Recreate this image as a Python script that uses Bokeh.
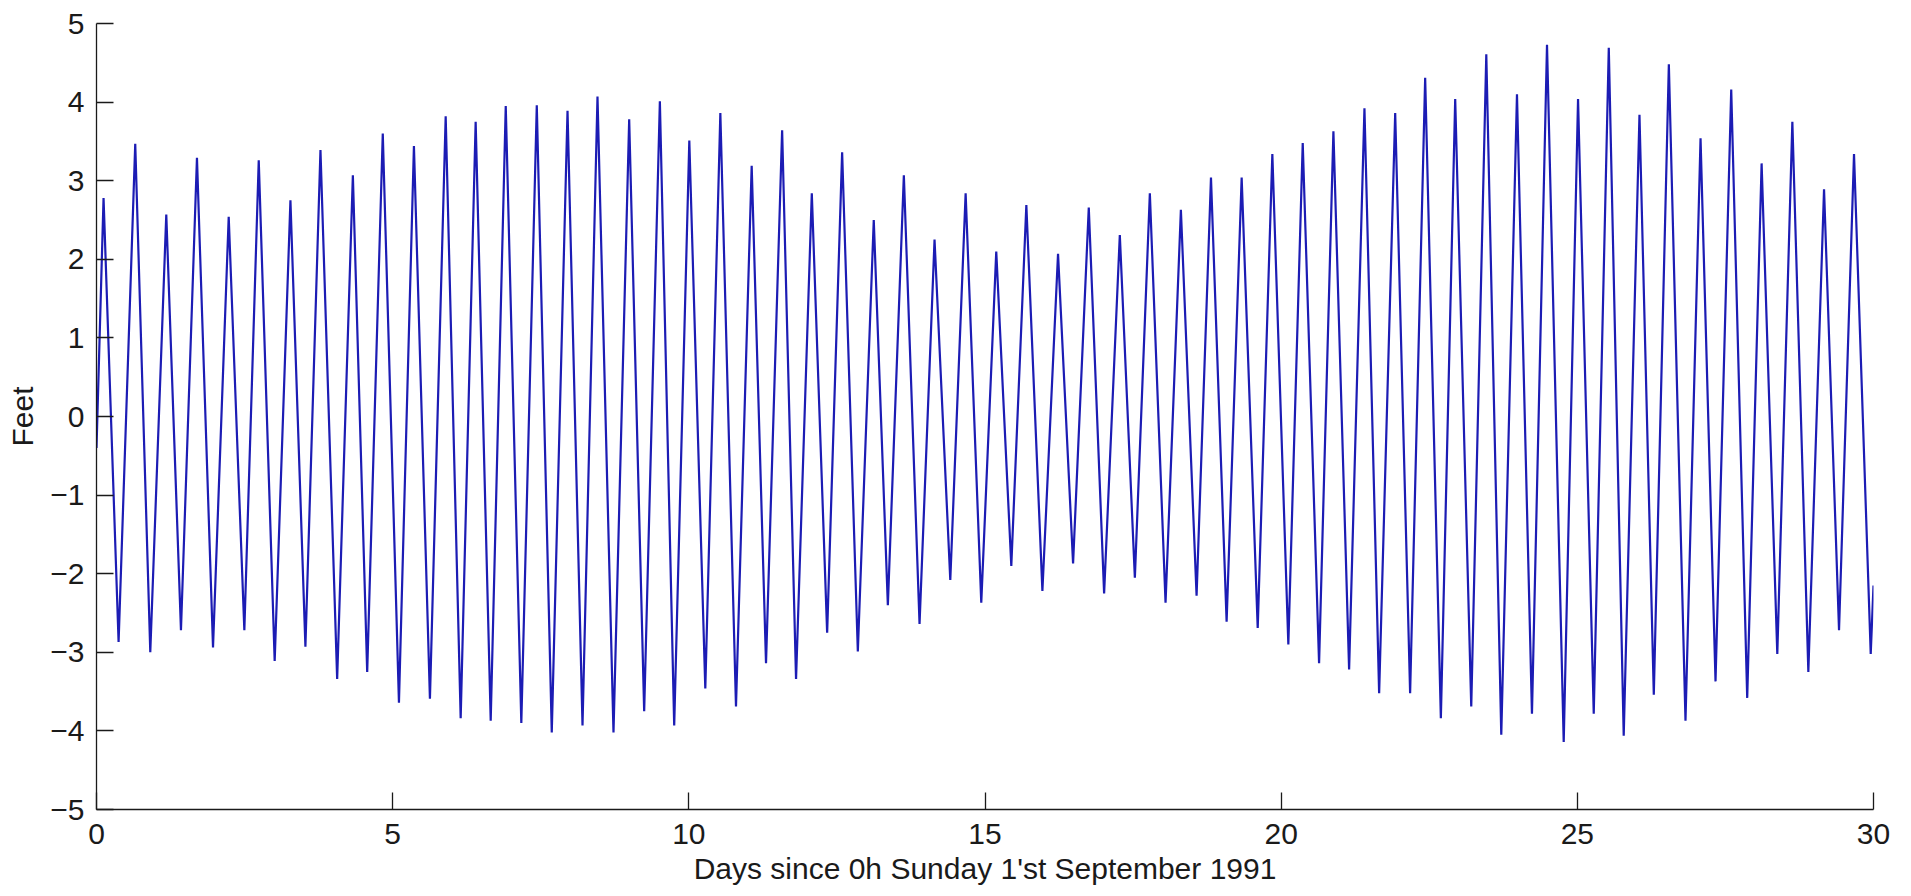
from bokeh.plotting import figure
from bokeh.models import FixedTicker, Range1d
from bokeh.embed import file_html
from bokeh.resources import INLINE

# Tide extrema (days since 0h Sun 1 Sep 1991, feet)
start_day = [0.0]
start_feet = [-0.40]

extremum_day = [
    0.119, 0.373, 0.654, 0.908, 1.178, 1.426, 1.696, 1.967, 2.232, 2.496,
    2.739, 3.008, 3.274, 3.527, 3.781, 4.063, 4.328, 4.570, 4.833, 5.106,
    5.359, 5.629, 5.895, 6.148, 6.401, 6.655, 6.909, 7.172, 7.433, 7.686,
    7.952, 8.205, 8.458, 8.728, 8.993, 9.246, 9.511, 9.753, 10.008, 10.278,
    10.532, 10.796, 11.061, 11.303, 11.575, 11.810, 12.076, 12.335, 12.588, 12.853,
    13.122, 13.360, 13.630, 13.895, 14.148, 14.414, 14.673, 14.937, 15.190, 15.444,
    15.698, 15.969, 16.233, 16.487, 16.752, 17.011, 17.276, 17.530, 17.783, 18.048,
    18.307, 18.572, 18.815, 19.079, 19.333, 19.604, 19.851, 20.121, 20.364, 20.640,
    20.882, 21.147, 21.406, 21.654, 21.925, 22.177, 22.431, 22.696, 22.938, 23.209,
    23.463, 23.716, 23.981, 24.234, 24.488, 24.770, 25.012, 25.277, 25.531, 25.783,
    26.049, 26.291, 26.545, 26.826, 27.080, 27.333, 27.598, 27.868, 28.111, 28.376,
    28.630, 28.900, 29.165, 29.418, 29.671, 29.953,
]
extremum_feet = [
    2.78, -2.87, 3.47, -3.00, 2.57, -2.72, 3.29, -2.94, 2.54, -2.72,
    3.26, -3.11, 2.75, -2.93, 3.39, -3.34, 3.07, -3.25, 3.60, -3.64,
    3.44, -3.59, 3.82, -3.84, 3.75, -3.87, 3.95, -3.90, 3.96, -4.02,
    3.89, -3.93, 4.07, -4.02, 3.78, -3.75, 4.01, -3.93, 3.51, -3.46,
    3.86, -3.69, 3.19, -3.14, 3.64, -3.34, 2.84, -2.75, 3.36, -2.99,
    2.50, -2.40, 3.07, -2.64, 2.25, -2.08, 2.84, -2.37, 2.10, -1.90,
    2.69, -2.22, 2.07, -1.87, 2.66, -2.25, 2.31, -2.05, 2.84, -2.37,
    2.63, -2.28, 3.04, -2.61, 3.04, -2.69, 3.34, -2.90, 3.48, -3.14,
    3.63, -3.22, 3.92, -3.52, 3.86, -3.52, 4.31, -3.84, 4.04, -3.69,
    4.61, -4.05, 4.10, -3.78, 4.73, -4.14, 4.04, -3.78, 4.69, -4.06,
    3.84, -3.54, 4.48, -3.87, 3.54, -3.37, 4.16, -3.58, 3.22, -3.02,
    3.75, -3.25, 2.89, -2.72, 3.34, -3.02,
]
end_day = [30.0]
end_feet = [-2.15]

x_ticks = [0, 5, 10, 15, 20, 25, 30]
y_ticks = [-5, -4, -3, -2, -1, 0, 1, 2, 3, 4, 5]
x_label = "Days since 0h Sunday 1'st September 1991"
y_label = "Feet"

days = start_day + extremum_day + end_day
feet = start_feet + extremum_feet + end_feet

FONT = "Liberation Sans"
FS = "30px"
INK = "#1a1a1a"

p = figure(width=1911, height=895, output_backend="svg", toolbar_location=None,
           x_range=Range1d(0, 30), y_range=Range1d(-5, 5))
p.min_border_left = 96
p.min_border_right = 38
p.min_border_top = 23
p.min_border_bottom = 86
p.outline_line_color = None
p.background_fill_color = "white"
p.border_fill_color = "white"
p.grid.visible = False

p.line(days, feet, line_color="#1c1cb4", line_width=2.2)

for ax in (p.xaxis[0], p.yaxis[0]):
    ax.major_tick_in = 17
    ax.major_tick_out = 0
    ax.minor_tick_line_color = None
    ax.axis_line_color = INK
    ax.axis_line_width = 1.3
    ax.major_tick_line_color = INK
    ax.major_tick_line_width = 1.3
    ax.major_label_text_font = FONT
    ax.major_label_text_font_size = FS
    ax.major_label_text_color = INK
    ax.axis_label_text_font = FONT
    ax.axis_label_text_font_size = FS
    ax.axis_label_text_font_style = "normal"
    ax.axis_label_text_color = INK

p.xaxis[0].ticker = FixedTicker(ticks=x_ticks)
p.yaxis[0].ticker = FixedTicker(ticks=y_ticks)
p.xaxis[0].axis_label = x_label
p.yaxis[0].axis_label = y_label
p.xaxis[0].major_label_standoff = 14
p.xaxis[0].axis_label_standoff = 5
p.yaxis[0].major_label_standoff = 12
p.yaxis[0].axis_label_standoff = 8

open("out.html", "w").write(file_html(p, INLINE))
